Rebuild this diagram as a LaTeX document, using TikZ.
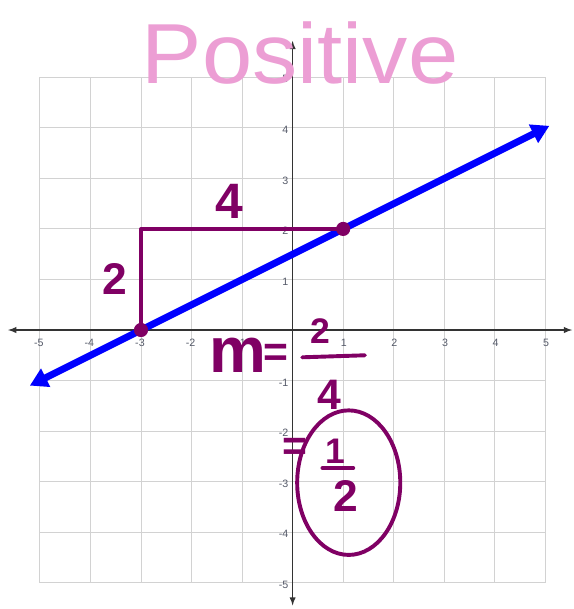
\documentclass[tikz,border=0pt]{standalone}
\usepackage{fontspec}
\setsansfont{Liberation Sans}
\usepackage{tikz}
\usetikzlibrary{arrows.meta,calc,positioning}
\definecolor{ink}{RGB}{128,0,100}
\definecolor{pinkink}{RGB}{236,158,212}
\definecolor{ticktext}{RGB}{85,90,105}
\tikzset{
  hand/.style={text=ink, font=\sffamily\bfseries\fontsize{24}{24}\selectfont, inner sep=0pt},
  tick/.style={text=ticktext, font=\sffamily\fontsize{6}{6}\selectfont, inner sep=0pt},
  pen/.style={ink, line width=2.2pt, line cap=round, line join=round},
}

\begin{document}
\begin{tikzpicture}[>=latex, font=\sffamily]
    \useasboundingbox (-5.79,-5.52) rectangle (5.55,6.53);

    % Griglia e assi
    \draw[gray!35, line width=0.5pt] (-5,-5) grid (5,5);
    \draw[<->, black!80, line width=0.6pt] (-5.63,0) -- (5.53,0);
    \draw[<->, black!80, line width=0.6pt] (0,-5.45) -- (0,5.72);
    \foreach \x in {-5,-4,-3,-2,-1,1,2,3,4,5}
        \node[tick, anchor=east] (xt\x) at (\x+0.08,-0.26) {\x};
    \foreach \y in {-5,-4,-3,-2,-1,1,2,3,4,5}
        \node[tick, anchor=east] (yt\y) at (-0.08,\y-0.04) {\y};

    % Titolo
    \node[text=pinkink, font=\sffamily\fontsize{48}{48}\selectfont, xscale=1.06, transform shape, anchor=base] (title) at (0.15,4.88) {Positive};

    % Retta
    \coordinate (L) at (-5.2,-1.1);
    \coordinate (R) at (5.08,4.04);
    \draw[blue, line width=3.9pt, {Triangle[length=10pt,width=11pt]}-{Triangle[length=10pt,width=11pt]}] (L) -- (R);

    % Triangolo della pendenza
    \coordinate (A) at (-3,0);
    \coordinate (C) at (-3,2);
    \coordinate (B) at (1,2);
    \draw[pen] (A) -- (C) -- (B);
    \fill[ink] (A) circle (0.14);
    \fill[ink] (B) circle (0.14);
    \node[hand, font=\sffamily\bfseries\fontsize{25}{25}\selectfont] (rise) at (-3.51,1.01) {2};
    \node[hand, font=\sffamily\bfseries\fontsize{28}{28}\selectfont] (run) at (-1.25,2.55) {4};

    % Calcolo di m
    \node[hand, font=\sffamily\bfseries\fontsize{36}{36}\selectfont] (m) at (-1.08,-0.5) {m};
    \node[hand] (eq1) at (-0.33,-0.5) {=};
    \node[hand, font=\sffamily\bfseries\fontsize{20}{20}\selectfont] (num) at (0.54,-0.02) {2};
    \draw[pen] (0.19,-0.54) -- (1.43,-0.5);
    \node[hand] (den) at (0.72,-1.29) {4};
    \node[hand] (eq2) at (0.05,-2.37) {=};
    \node[hand, font=\sffamily\bfseries\fontsize{20}{20}\selectfont] (one) at (0.84,-2.4) {1};
    \draw[pen] (0.59,-2.73) -- (1.2,-2.73);
    \node[hand, font=\sffamily\bfseries\fontsize{25}{25}\selectfont] (two) at (1.06,-3.29) {2};
    \draw[pen] (1.11,-3.02) ellipse (1.02 and 1.43);
\end{tikzpicture}
\end{document}
